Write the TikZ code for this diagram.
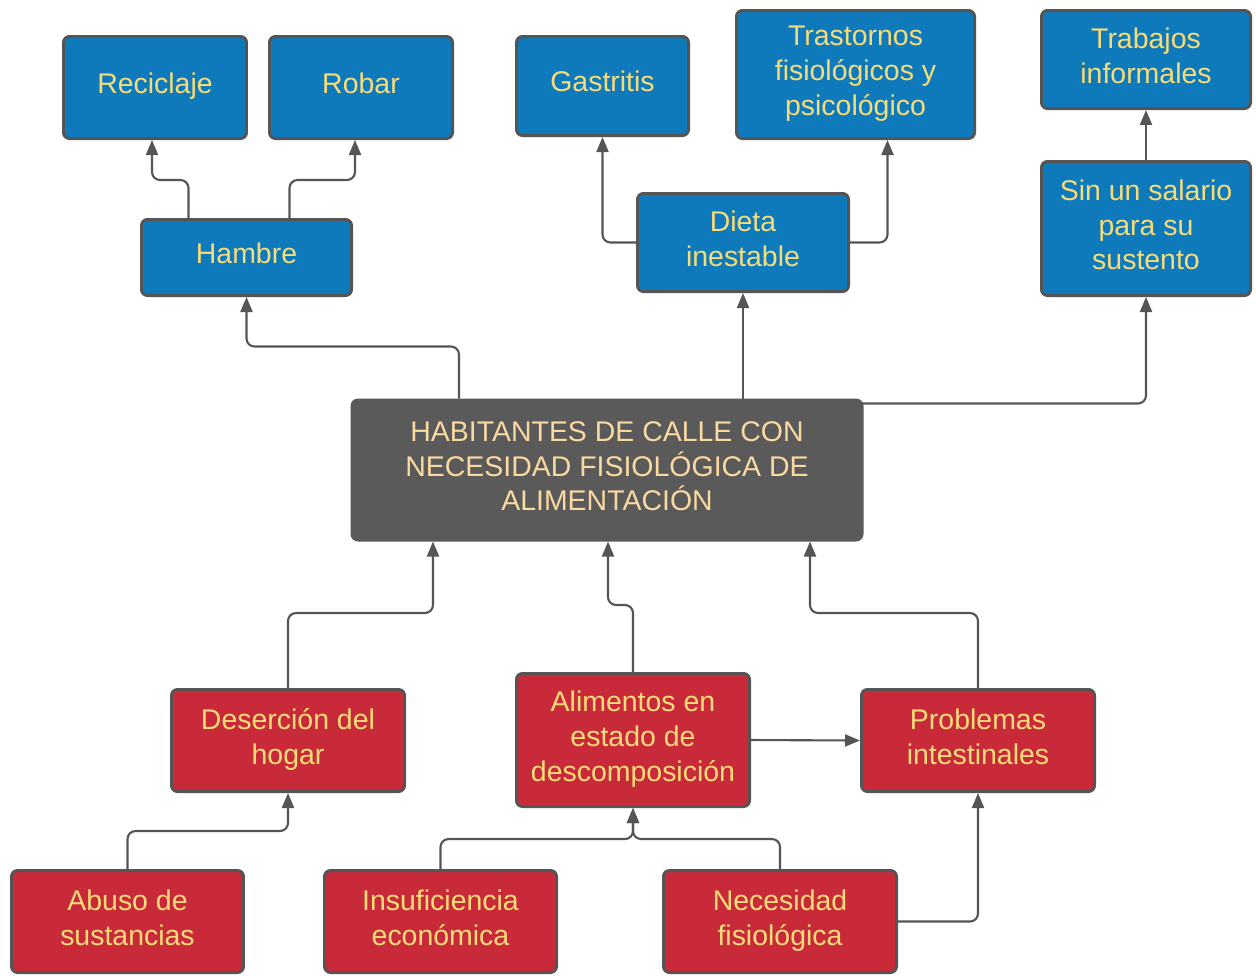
\documentclass[tikz,border=0pt]{standalone}
\usepackage{fontspec}
\setmainfont{Liberation Sans}
\usetikzlibrary{arrows.meta,calc}
\definecolor{blueC}{RGB}{14,122,187}
\definecolor{redC}{RGB}{200,42,58}
\definecolor{grayC}{RGB}{90,90,90}
\definecolor{borderC}{RGB}{85,85,85}
\definecolor{lineC}{RGB}{85,85,85}
\definecolor{txtY}{RGB}{246,220,120}
\definecolor{txtP}{RGB}{250,217,161}
\newcommand{\mystrutdepth}{4.3pt}
\newcommand{\mystrut}{\rule{0pt}{13.9pt}\rule[-\mystrutdepth]{0pt}{\mystrutdepth}}
\tikzset{
  box/.style={draw=borderC, line width=1.7pt, rounded corners=0.12cm, align=center,
    font=\fontsize{16.2}{19.8}\selectfont, text=txtY, inner sep=1pt,
    execute at begin node=\mystrut, execute at end node=\mystrut},
  oneline/.style={execute at begin node={\def\mystrutdepth{7.5pt}}},
  sz/.style 2 args={minimum width=#1*0.02cm, minimum height=#2*0.02cm},
  bluebox/.style={box, fill=blueC},
  redbox/.style={box, fill=redC},
  centerbox/.style={box, fill=grayC, draw=grayC, text=txtP},
  conn/.style={draw=lineC, line width=1.2pt, rounded corners=0.16cm,
    -{Triangle[length=0.3cm,width=0.24cm]}},
}
\begin{document}
\begin{tikzpicture}[x=0.02cm,y=-0.02cm]
\useasboundingbox (0,0) rectangle (1256,975);
\clip (0,0) rectangle (1256,975);
\fill[white] (0,0) rectangle (1256,975);

% blue nodes
\node[bluebox, oneline, sz={183}{102}] (reciclaje) at (155,87.5) {Reciclaje};
\node[bluebox, oneline, sz={183}{102}] (robar) at (361,87.5) {Robar};
\node[bluebox, oneline, sz={172}{99}] (gastritis) at (602.5,86) {Gastritis};
\node[bluebox, sz={238}{128}] (trastornos) at (855.5,74.5) {Trastornos\\fisiológicos y\\psicológico};
\node[bluebox, sz={209}{98}] (trabajos) at (1146,59.5) {Trabajos\\informales};
\node[bluebox, oneline, sz={210}{76}] (hambre) at (246.5,257.5) {Hambre};
\node[bluebox, sz={211}{98}] (dieta) at (743,242.5) {Dieta\\inestable};
\node[bluebox, sz={209}{134}] (salario) at (1146,228.5) {Sin un salario\\para su\\sustento};

% center
\node[centerbox, sz={510}{140}] (center) at (607,470) {HABITANTES DE CALLE CON\\NECESIDAD FISIOLÓGICA DE\\ALIMENTACIÓN};

% red nodes
\node[redbox, sz={233}{102}] (desercion) at (288,740.5) {Deserción del\\hogar};
\node[redbox, sz={233}{133}] (alimentos) at (633,740) {Alimentos en\\estado de\\descomposición};
\node[redbox, sz={233}{102}] (problemas) at (978,740.5) {Problemas\\intestinales};
\node[redbox, sz={232}{102}] (abuso) at (127.5,921.5) {Abuso de\\sustancias};
\node[redbox, sz={232}{102}] (insuf) at (440.5,921.5) {Insuficiencia\\económica};
\node[redbox, sz={233}{102}] (necesidad) at (780,921.5) {Necesidad\\fisiológica};

% connectors top
\draw[conn] ($(hambre.north)+(-58,0)$) -- ++(0,-38) -| ($(reciclaje.south)+(-3,0)$);
\draw[conn] ($(hambre.north)+(43,0)$) -- ++(0,-38) -| ($(robar.south)+(-6,0)$);
\draw[conn] ($(center.north)+(-148,0)$) -- ++(0,-52) -| (hambre.south);
\draw[conn] (center.north -| dieta.south) -- (dieta.south);
\draw[conn] (dieta.west) -| (gastritis.south);
\draw[conn] (dieta.east) -| ($(trastornos.south)+(32,0)$);
\draw[conn] ($(center.north east)+(-2,5)$) -| (salario.south);
\draw[conn] (salario.north) -- (trabajos.south);

% connectors bottom
\draw[conn] (desercion.north) -- ++(0,-75) -| ($(center.south)+(-174,0)$);
\draw[conn] (alimentos.north) -- ++(0,-67) -| ($(center.south)+(1,0)$);
\draw[conn] (problemas.north) -- ++(0,-75) -| ($(center.south)+(203,0)$);
\draw[conn] (alimentos.east) -- (problemas.west);
\draw[conn] (abuso.north) -- ++(0,-38) -| (desercion.south);
\draw[conn] (insuf.north) -- ++(0,-30) -| (alimentos.south);
\draw[conn] (necesidad.north) -- ++(0,-30) -| (alimentos.south);
\draw[conn] (necesidad.east) -| (problemas.south);
\end{tikzpicture}
\end{document}
